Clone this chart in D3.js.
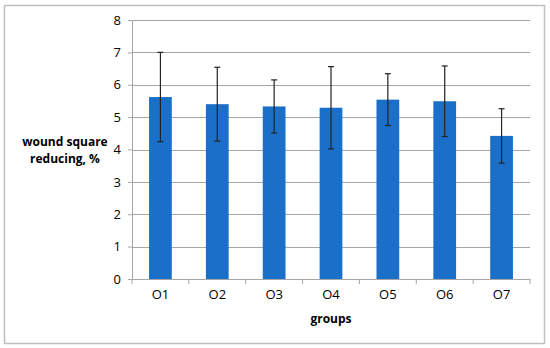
<!DOCTYPE html>
<html lang="en">
<head>
  <meta charset="utf-8">
  <title>wound square reducing</title>
  <script src="https://cdn.jsdelivr.net/npm/d3@7"></script>
  <style>
    body { margin: 0; background: #fff; }
    text { font-family: "Open Sans", "Liberation Sans", sans-serif; fill: #000; }
  </style>
</head>
<body>
  <div id="chart"></div>
  <script>
    // values
    var groups = ["O1", "O2", "O3", "O4", "O5", "O6", "O7"];
    var means  = [5.62, 5.40, 5.33, 5.29, 5.54, 5.49, 4.42];
    var errors = [1.38, 1.14, 0.82, 1.27, 0.80, 1.09, 0.84];
    var yTicks = [0, 1, 2, 3, 4, 5, 6, 7, 8];

    var width = 550, height = 348;
    var plotLeft = 132, plotRight = 530, plotTop = 20, plotBottom = 279;

    var svg = d3.select("#chart")
                .append("svg")
                .attr("width", width)
                .attr("height", height);

    // outer frame
    svg.append("rect")
       .attr("x", 4.5).attr("y", 5.5)
       .attr("width", 540).attr("height", 338)
       .attr("fill", "none")
       .attr("stroke", "#bfbfbf")
       .attr("stroke-width", 1.5);

    var x = d3.scaleBand().domain(groups).range([plotLeft, plotRight]);
    var y = d3.scaleLinear().domain([0, 8]).range([plotBottom, plotTop]);

    // gridlines
    svg.append("g")
       .selectAll("line")
       .data(yTicks.slice(1))
       .join("line")
       .attr("x1", plotLeft).attr("x2", plotRight)
       .attr("y1", function(d) { return Math.round(y(d)) + 0.5; })
       .attr("y2", function(d) { return Math.round(y(d)) + 0.5; })
       .attr("stroke", "#a6a6a6")
       .attr("stroke-width", 1);

    // y axis
    var yAxis = svg.append("g")
       .attr("transform", "translate(" + plotLeft + ",0)")
       .call(d3.axisLeft(y).tickValues(yTicks).tickSize(4).tickPadding(7));
    yAxis.select(".domain").attr("stroke", "#a6a6a6");
    yAxis.selectAll(".tick line").attr("stroke", "#a6a6a6");
    yAxis.selectAll(".tick text").style("font-size", "13px").attr("fill", "#000");

    // bars
    var barW = x.bandwidth() * 0.4;
    svg.append("g")
       .selectAll("rect")
       .data(groups)
       .join("rect")
       .attr("x", function(d) { return x(d) + (x.bandwidth() - barW) / 2; })
       .attr("y", function(d, i) { return y(means[i]); })
       .attr("width", barW)
       .attr("height", function(d, i) { return y(0) - y(means[i]); })
       .attr("fill", "#1a70c8");

    // error bars
    var eb = svg.append("g")
       .attr("stroke", "#222")
       .attr("stroke-width", 1.2);
    groups.forEach(function(g, i) {
      var cx = x(g) + x.bandwidth() / 2;
      var hi = y(means[i] + errors[i]), lo = y(means[i] - errors[i]);
      eb.append("line").attr("x1", cx).attr("x2", cx).attr("y1", hi).attr("y2", lo);
      eb.append("line").attr("x1", cx - 3).attr("x2", cx + 3).attr("y1", hi).attr("y2", hi);
      eb.append("line").attr("x1", cx - 3).attr("x2", cx + 3).attr("y1", lo).attr("y2", lo);
    });

    // x axis
    var xAxis = svg.append("g")
       .attr("transform", "translate(0," + plotBottom + ")")
       .call(d3.axisBottom(x).tickSize(0).tickPadding(11));
    xAxis.select(".domain").attr("stroke", "#a6a6a6");
    xAxis.selectAll(".tick text").style("font-size", "13px").attr("fill", "#000");
    // tick marks between categories
    xAxis.append("g")
       .selectAll("line")
       .data(groups.concat(["end"]))
       .join("line")
       .attr("x1", function(d, i) { return plotLeft + i * x.step(); })
       .attr("x2", function(d, i) { return plotLeft + i * x.step(); })
       .attr("y1", 0).attr("y2", 5)
       .attr("stroke", "#a6a6a6");

    // axis titles
    svg.append("text")
       .attr("x", (plotLeft + plotRight) / 2)
       .attr("y", 323)
       .attr("text-anchor", "middle")
       .style("font-size", "12px")
       .style("font-weight", "bold")
       .text("groups");

    var yt = svg.append("text")
       .attr("text-anchor", "middle")
       .style("font-size", "12px")
       .style("font-weight", "bold");
    yt.append("tspan").attr("x", 65).attr("y", 146).text("wound square");
    yt.append("tspan").attr("x", 65).attr("y", 163).text("reducing, %");
  </script>
</body>
</html>
